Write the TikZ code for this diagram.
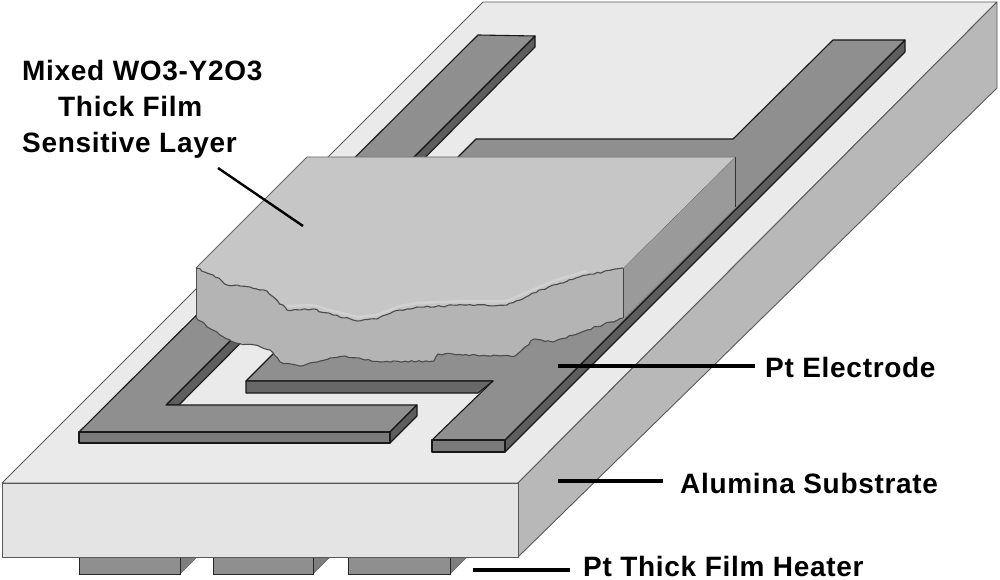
\documentclass[tikz,border=0pt]{standalone}
\usepackage{fontspec}
\setmainfont[LetterSpace=2.5]{Liberation Sans}
\usetikzlibrary{decorations.pathmorphing}

\definecolor{subtop}{HTML}{EAEAEA}
\definecolor{subfront}{HTML}{E4E4E4}
\definecolor{subside}{HTML}{B8B8B8}
\definecolor{pttop}{HTML}{8F8F8F}
\definecolor{ptfront}{HTML}{7A7A7A}
\definecolor{ptside}{HTML}{5E5E5E}
\definecolor{filmtop}{HTML}{C6C6C6}
\definecolor{filmfront}{HTML}{B4B4B4}
\definecolor{filmside}{HTML}{9A9A9A}

\tikzset{
    subface/.style={draw=black!65, line width=0.9pt, line join=round},
    ptface/.style={draw=black!90, line width=1.1pt, line join=round},
    rough/.style={draw=black!70, line width=1.1pt, decorate,
        decoration={random steps, segment length=3.5pt, amplitude=0.9pt}},
    leader/.style={draw=black, line width=3.2pt},
    label/.style={font=\fontsize{28}{36}\selectfont\bfseries, inner sep=0pt, text=black}
}

\begin{document}
\begin{tikzpicture}[x=1pt, y=-1pt]

\useasboundingbox (0,0) rectangle (1000,580);

% --- Heizer unter dem Substrat ---
\foreach \xa/\xb in {79/180, 213/313, 348/450} {
    \fill[ptside!80, draw=black!60] (\xb,574) -- (\xb+17,557) -- (\xb,557) -- cycle;
    \filldraw[fill=pttop, draw=black!85, line width=1pt] (\xa,557) rectangle (\xb,574);
}

% --- Substrat ---
\filldraw[subface, fill=subtop]   (2,483) -- (483,2) -- (997,2) -- (518,483) -- cycle;
\filldraw[subface, fill=subside]  (518,483) -- (997,2) -- (997,88) -- (518,557) -- cycle;
\filldraw[subface, fill=subfront] (2,483) rectangle (518,557);

% --- Linke Elektrode ---
\filldraw[ptface, fill=ptside] (166,405) -- (535,36) -- (535,47) -- (179,405) -- cycle;
\filldraw[ptface, fill=pttop]  (79,432) -- (478,35) -- (535,36) -- (166,405)
    -- (417,405) -- (390,432) -- cycle;
\filldraw[ptface, fill=ptside] (390,432) -- (417,405) -- (417,416) -- (390,443) -- cycle;
\filldraw[ptface, fill=ptfront] (79,432) rectangle (390,443);

% --- Rechte Elektrode ---
\filldraw[ptface, fill=ptside] (905,40) -- (905,52) -- (505,452) -- (505,440) -- cycle;
\filldraw[ptface, fill=pttop]  (833,40) -- (905,40) -- (505,440) -- (432,440)
    -- (493,381) -- (246,381) -- (290,337) -- (455,170) -- (458,157) -- (476,139)
    -- (733,139) -- cycle;
\filldraw[ptface, fill=ptfront!85!black] (246,381) -- (493,381) -- (478,393) -- (246,393) -- cycle;
\filldraw[ptface, fill=ptfront] (432,440) rectangle (505,452);

% --- Sensitive Schicht ---
\fill[filmside] (623,268) -- (735,157) -- (735,207) -- (623,318) -- cycle;
\draw[black!80, line width=1pt] (735,157) -- (735,207);
\draw[black!80, line width=1pt] (623,268) -- (623,318);
\draw[black!60, line width=0.9pt] (623,268) -- (735,157);

\fill[filmfront] (196,268) -- (213,275) -- (227,285) -- (250,287) -- (267,291) -- (287,310)
    -- (313,309) -- (333,315) -- (357,321) -- (377,319) -- (400,310) -- (417,307) -- (467,305)
    -- (507,305) -- (553,285) -- (587,275) -- (623,268) -- (623,318) -- (587,330) -- (553,342)
    -- (534,339) -- (515,356) -- (438,354) -- (434,361) -- (380,362) -- (345,356) -- (330,358)
    -- (300,366) -- (280,362) -- (270,350) -- (255,345) -- (236,343) -- (220,335) -- (196,318) -- cycle;

\fill[filmtop] (196,268) -- (307,157) -- (735,157) -- (623,268) -- (587,275) -- (553,285)
    -- (507,305) -- (467,305) -- (417,307) -- (400,310) -- (377,319) -- (357,321) -- (333,315)
    -- (313,309) -- (287,310) -- (267,291) -- (250,287) -- (227,285) -- (213,275) -- cycle;
\draw[black!60, line width=0.9pt] (196,268) -- (307,157) -- (735,157);
\draw[black!70, line width=1pt] (196,268) -- (196,318);

% --- Bruchkanten ---
\draw[white!82!black, line width=2.5pt] (287,306) -- (313,305) -- (333,311) -- (357,317)
    -- (377,315) -- (400,306) -- (417,303) -- (467,301) -- (507,301) -- (553,281) -- (587,271);
\draw[rough] (196,268) -- (213,275) -- (227,285) -- (250,287) -- (267,291) -- (287,310)
    -- (313,309) -- (333,315) -- (357,321) -- (377,319) -- (400,310) -- (417,307) -- (467,305)
    -- (507,305) -- (553,285) -- (587,275) -- (623,268);
\draw[rough] (196,318) -- (220,335) -- (236,343) -- (255,345) -- (270,350) -- (280,362)
    -- (300,366) -- (330,358) -- (345,356) -- (380,362) -- (434,361) -- (438,354) -- (515,356)
    -- (534,339) -- (553,342) -- (587,330) -- (623,318);

% --- Beschriftung ---
\node[label, anchor=north west, align=left] (film_label) at (22,60)
    {Mixed WO3-Y2O3\\\hspace*{36pt}Thick Film\\Sensitive Layer};
\node[label, anchor=west] (electrode_label) at (765,367) {Pt Electrode};
\node[label, anchor=west] (substrate_label) at (680,483) {Alumina Substrate};
\node[label, anchor=west] (heater_label)    at (583,566) {Pt Thick Film Heater};

\coordinate (film_start)     at (218,168);
\coordinate (film_tip)       at (303,226);
\coordinate (electrode_tip)  at (558,366);
\coordinate (substrate_tip)  at (558,481);
\coordinate (heater_tip)     at (473,570);

% --- Hinweislinien ---
\draw[leader, line width=2.4pt] (film_start) -- (film_tip);
\draw[leader] (electrode_tip) -- ([xshift=-10pt]electrode_label.west |- electrode_tip);
\draw[leader] (substrate_tip) -- ([xshift=-17pt]substrate_label.west |- substrate_tip);
\draw[leader] (heater_tip) -- ([xshift=-13pt]heater_label.west |- heater_tip);

\end{tikzpicture}
\end{document}
